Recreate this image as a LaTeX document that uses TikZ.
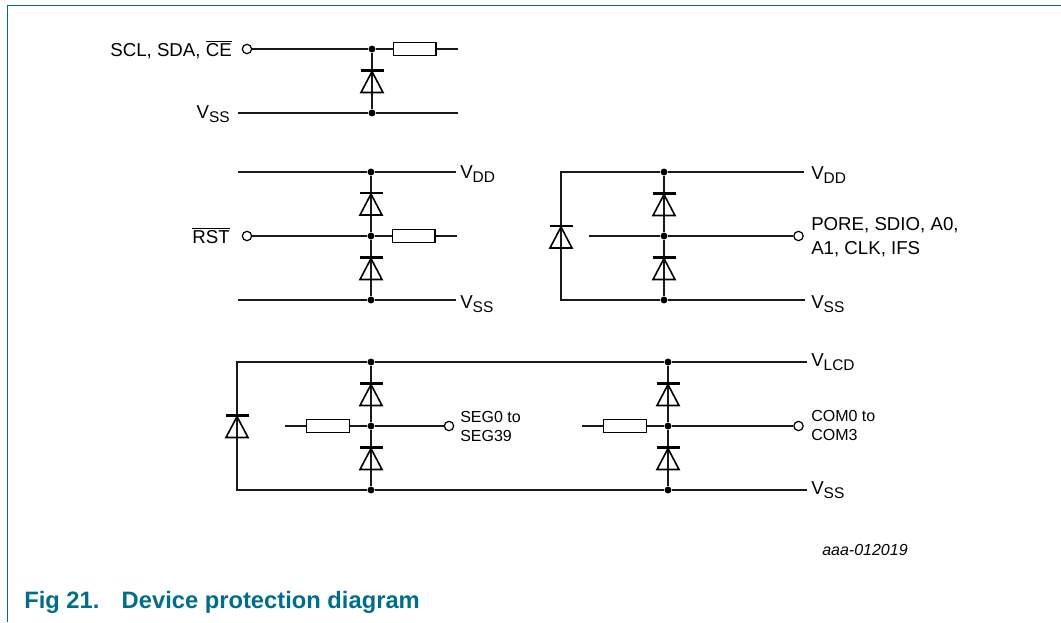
\documentclass[tikz,border=0pt]{standalone}
\usepackage{fontspec}
\setmainfont{Liberation Sans}
\definecolor{nxpteal}{HTML}{006E8A}
\newcommand{\lowtext}[1]{\raisebox{-.25em}{\fontsize{11.6}{12}\selectfont #1}}
\newcommand{\bartext}[1]{$\overline{\mbox{#1}}$}
\tikzset{
wire/.style={line width=1.15pt,black!90},
jun/.style={circle,fill=black,inner sep=0pt,minimum size=5.2pt},
pin/.style={circle,draw,line width=0.9pt,fill=white,inner sep=0pt,minimum size=7pt},
res/.style={rectangle,draw,line width=1pt,fill=white,inner sep=0pt,minimum width=32pt,minimum height=10pt},
lab/.style={anchor=base west,inner sep=0pt,align=left,font=\fontsize{14}{17.5}\selectfont},
small lab/.style={anchor=base west,inner sep=0pt,align=left,font=\fontsize{12}{14.3}\selectfont},
}
\newcommand{\diode}[2]{%
\draw[line width=2pt] (#1-11.5,#2) -- (#1+11.5,#2);
\draw[line width=1.2pt,line join=miter] (#1,#2+1) -- (#1-11,#2+22) -- (#1+11,#2+22) -- cycle;}
\begin{document}
\begin{tikzpicture}[x=0.75pt,y=-0.75pt]
\useasboundingbox (0,0) rectangle (1061,622);
\draw[nxpteal,line width=1pt] (7.5,622) -- (7.5,5.5) -- (1061,5.5);
%first block
\node[pin] (p1) at (247,49) {};
\node[jun] (j1) at (372,49) {};
\node[jun] (j2) at (372,113) {};
\node[res] (r1) at (414.5,49) {};
\coordinate (e1) at (458,49);
\coordinate (s2) at (238,113);
\coordinate (e2) at (458,113);
\draw[wire] (p1)--(j1)--(r1)--(e1);
\draw[wire] (s2)--(j2)--(e2);
\draw[wire] (j1)--(j2);
\diode{372}{70.5}
\node[lab,anchor=base east] (l1) at (232,56) {SCL, SDA, \bartext{CE}};
\node[lab,anchor=base east] (l2) at (230,118) {V\lowtext{SS}};
%second block
\node[jun] (j3) at (371,172) {};
\node[jun] (j4) at (371,236) {};
\node[jun] (j5) at (371,300) {};
\node[pin] (p2) at (247,236) {};
\node[res] (r2) at (413.5,236) {};
\coordinate (s3) at (238,172);
\coordinate (e3) at (456,172);
\coordinate (e4) at (457,236);
\coordinate (s5) at (238,300);
\coordinate (e5) at (456,300);
\draw[wire] (s3)--(j3)--(e3);
\draw[wire] (p2)--(j4)--(r2)--(e4);
\draw[wire] (s5)--(j5)--(e5);
\draw[wire] (j3)--(j4)--(j5);
\diode{371}{193}
\diode{371}{257.5}
\node[lab,anchor=base east] (l3) at (230,243) {\bartext{RST}};
\node[lab] (l4) at (460,178) {V\lowtext{DD}};
\node[lab] (l5) at (460,308) {V\lowtext{SS}};
%third block
\coordinate (c1) at (561,172);
\coordinate (c2) at (561,300);
\node[jun] (j6) at (664,172) {};
\node[jun] (j7) at (664,236) {};
\node[jun] (j8) at (664,300) {};
\node[pin] (p3) at (798.5,236) {};
\coordinate (e6) at (804,172);
\coordinate (e8) at (805,300);
\coordinate (s7) at (589,236);
\draw[wire] (e6)--(j6)--(c1)--(c2)--(j8)--(e8);
\draw[wire] (s7)--(j7)--(p3);
\draw[wire] (j6)--(j7)--(j8);
\diode{664}{193.5}
\diode{664}{257.5}
\diode{561}{226}
\node[lab] (l6) at (811,179) {V\lowtext{DD}};
\node[lab] (l7) at (811,308) {V\lowtext{SS}};
\node[lab] (l8) at (811,254.3) {PORE, SDIO, A0,\\A1, CLK, IFS};
%fourth block
\coordinate (c3) at (237,362);
\coordinate (c4) at (237,490);
\node[jun] (j9) at (371,362) {};
\node[jun] (j10) at (371,426) {};
\node[jun] (j11) at (371,490) {};
\node[jun] (j12) at (668,362) {};
\node[jun] (j13) at (668,426) {};
\node[jun] (j14) at (668,490) {};
\node[res] (r3) at (328,426) {};
\node[res] (r4) at (625,426) {};
\node[pin] (p4) at (449,426) {};
\node[pin] (p5) at (798.5,426) {};
\coordinate (s10) at (285,426);
\coordinate (s13) at (582,426);
\coordinate (e12) at (807,362);
\coordinate (e14) at (807,490);
\draw[wire] (e12)--(j12)--(j9)--(c3)--(c4)--(j11)--(j14)--(e14);
\draw[wire] (s10)--(r3)--(j10)--(p4);
\draw[wire] (s13)--(r4)--(j13)--(p5);
\draw[wire] (j9)--(j10)--(j11);
\draw[wire] (j12)--(j13)--(j14);
\foreach \i in {371,668}{\diode{\i}{383.5}\diode{\i}{447.5}}
\diode{237}{415.5}
\node[lab] (l9) at (811,366) {V\lowtext{LCD}};
\node[lab] (l10) at (811,494) {V\lowtext{SS}};
\node[small lab] (l11) at (460,441.3) {SEG0 to\\SEG39};
\node[small lab] (l12) at (811,440.7) {COM0 to\\COM3};
\node[small lab,font=\fontsize{12}{14}\itshape] (l13) at (822,555) {aaa-012019};
\node[anchor=base west,inner sep=0pt,text=nxpteal,font=\fontsize{17.8}{20}\bfseries] (l14) at (24,608) {Fig 21.\hspace{.94em}Device protection diagram};
\end{tikzpicture}
\end{document}
